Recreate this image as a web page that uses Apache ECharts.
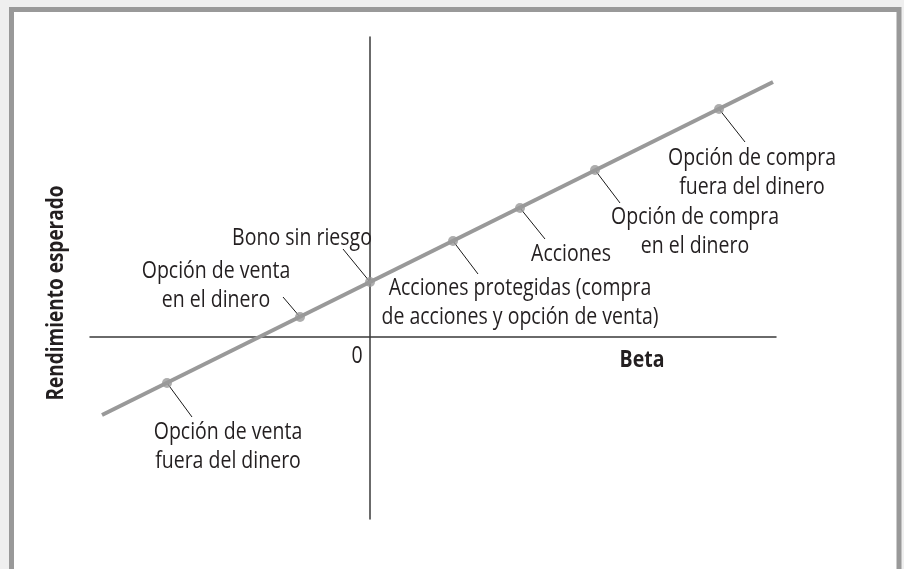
<!DOCTYPE html>
<html>
<head>
<meta charset="utf-8">
<script src="https://cdn.jsdelivr.net/npm/echarts@6/dist/echarts.min.js"></script>
<style>
  html, body { margin: 0; padding: 0; background: #efefef; }
  #chart { width: 904px; height: 569px; }
</style>
</head>
<body>
<div id="chart"></div>
<script>
// puntos sobre la recta
const names = [
  'Opción de venta\nfuera del dinero',
  'Opción de venta\nen el dinero',
  'Bono sin riesgo',
  'Acciones protegidas (compra\nde acciones y opción de venta)',
  'Acciones',
  'Opción de compra\nen el dinero',
  'Opción de compra\nfuera del dinero',
];
const betas = [-2.03, -0.70, 0, 0.83, 1.50, 2.25, 3.49];
const returns = [-0.46, 0.20, 0.55, 0.96, 1.29, 1.67, 2.28];

// extremos de la recta
const lineBetas = [-2.68, 4.03];
const lineReturns = [-0.78, 2.55];

// colocación de etiquetas: [fin de la guía dx, dy, centro del texto dx, dy] en px desde el punto
const labelLayout = [
  [25, 34, 61, 64],
  [-17, -20, -84, -31],
  [-27, -33, -68, -44],
  [25, 33, 67, 62],
  [25, 31, 51, 46],
  [25, 33, 100, 62],
  [26, 33, 33, 64],
];

const FONT = '"Open Sans", "Noto Sans", sans-serif';
const TEXT_COLOR = '#231f20';
const SCALE_Y = 1.18;

const chart = echarts.init(document.getElementById('chart'), null, { renderer: 'canvas' });

const option = {
  backgroundColor: '#efefef',
  animation: false,
  grid: { left: 90, right: 128, top: 37, bottom: 50 },
  xAxis: {
    type: 'value',
    min: -2.8,
    max: 4.06,
    axisLine: { show: true, onZero: true, lineStyle: { color: '#3a3a3a', width: 1.5 } },
    axisTick: { show: false },
    axisLabel: { show: false },
    splitLine: { show: false },
  },
  yAxis: {
    type: 'value',
    min: -1.82,
    max: 3.0,
    axisLine: { show: true, onZero: true, lineStyle: { color: '#3a3a3a', width: 1.5 } },
    axisTick: { show: false },
    axisLabel: { show: false },
    splitLine: { show: false },
  },
  series: [
    {
      type: 'line',
      data: lineBetas.map((b, i) => [b, lineReturns[i]]),
      symbol: 'none',
      lineStyle: { color: '#999999', width: 4 },
      z: 3,
    },
    {
      type: 'scatter',
      data: betas.map((b, i) => [b, returns[i]]),
      symbolSize: 10,
      itemStyle: { color: '#999999' },
      z: 4,
    },
  ],
};

chart.setOption(option);

function makeText(x, y, text, bold) {
  return {
    type: 'text',
    x,
    y,
    scaleY: SCALE_Y,
    style: {
      text,
      fill: TEXT_COLOR,
      font: (bold ? 'bold ' : '') + '19.5px ' + FONT,
      align: 'center',
      verticalAlign: 'middle',
      lineHeight: 24.5,
    },
    z: 10,
  };
}

const elements = [
  // marco
  {
    type: 'rect',
    shape: { x: 11.5, y: 9.5, width: 887.5, height: 620 },
    style: { fill: '#ffffff', stroke: '#999999', lineWidth: 5 },
    z: -10,
    silent: true,
  },
  makeText(357, 356, '0', false),
  makeText(642, 360, 'Beta', true),
  {
    type: 'text',
    x: 57,
    y: 293,
    rotation: Math.PI / 2,
    scaleY: SCALE_Y,
    style: {
      text: 'Rendimiento esperado',
      fill: TEXT_COLOR,
      font: 'bold 19px ' + FONT,
      align: 'center',
      verticalAlign: 'middle',
    },
    z: 10,
  },
];

betas.forEach((b, i) => {
  const p = chart.convertToPixel({ gridIndex: 0 }, [b, returns[i]]);
  const l = labelLayout[i];
  elements.push({
    type: 'line',
    shape: { x1: p[0], y1: p[1], x2: p[0] + l[0], y2: p[1] + l[1] },
    style: { stroke: '#1a1a1a', lineWidth: 1 },
    z: 2,
  });
  elements.push(makeText(p[0] + l[2], p[1] + l[3], names[i], false));
});

chart.setOption({ graphic: { elements } });
</script>
</body>
</html>
